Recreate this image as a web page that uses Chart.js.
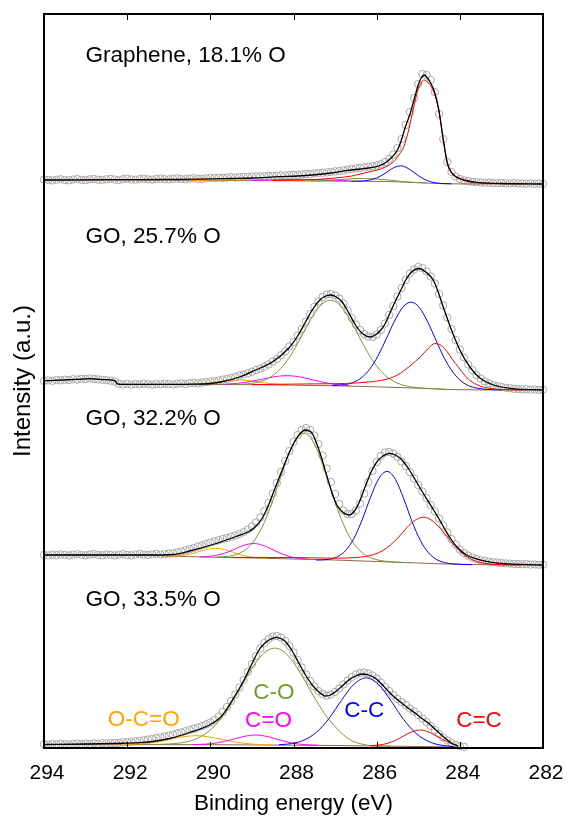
<!DOCTYPE html>
<html>
<head>
<meta charset="utf-8">
<script src="https://cdn.jsdelivr.net/npm/chart.js@4.4.1/dist/chart.umd.min.js"></script>
<style>
  html, body { margin: 0; padding: 0; background: #fff; overflow: hidden; }
  #grafico { display: block; }
</style>
</head>
<body>
<canvas id="grafico" width="568" height="818"></canvas>
<script>
// binding energy grid of the measured points (eV)
const energy = [
  294.0, 293.9, 293.8, 293.7, 293.6, 293.5, 293.4, 293.3, 293.2, 293.1,
  293.0, 292.9, 292.8, 292.7, 292.6, 292.5, 292.4, 292.3, 292.2, 292.1,
  292.0, 291.9, 291.8, 291.7, 291.6, 291.5, 291.4, 291.3, 291.2, 291.1,
  291.0, 290.9, 290.8, 290.7, 290.6, 290.5, 290.4, 290.3, 290.2, 290.1,
  290.0, 289.9, 289.8, 289.7, 289.6, 289.5, 289.4, 289.3, 289.2, 289.1,
  289.0, 288.9, 288.8, 288.7, 288.6, 288.5, 288.4, 288.3, 288.2, 288.1,
  288.0, 287.9, 287.8, 287.7, 287.6, 287.5, 287.4, 287.3, 287.2, 287.1,
  287.0, 286.9, 286.8, 286.7, 286.6, 286.5, 286.4, 286.3, 286.2, 286.1,
  286.0, 285.9, 285.8, 285.7, 285.6, 285.5, 285.4, 285.3, 285.2, 285.1,
  285.0, 284.9, 284.8, 284.7, 284.6, 284.5, 284.4, 284.3, 284.2, 284.1,
  284.0, 283.9, 283.8, 283.7, 283.6, 283.5, 283.4, 283.3, 283.2, 283.1,
  283.0, 282.9, 282.8, 282.7, 282.6, 282.5, 282.4, 282.3, 282.2, 282.1,
  282.0
];

const panelNames = ['Graphene, 18.1% O', 'GO, 25.7% O', 'GO, 32.2% O', 'GO, 33.5% O'];
const panelOffset = [564, 358, 183, 1];
const componentNames = ['C=C', 'C-C', 'C-O', 'C=O', 'O-C=O'];
const componentColors = ['#ff0000', '#0000ff', '#6f9e2f', '#ff00ff', '#ffa500'];

// ---- Graphene, 18.1% O ----
const graData = [
  4.5, 4.0, 3.6, 4.2, 4.8, 4.1, 3.7, 4.4, 4.9, 4.2,
  3.9, 4.6, 5.0, 4.3, 4.0, 4.7, 5.1, 4.4, 4.1, 4.8,
  5.2, 4.6, 4.3, 4.9, 5.3, 4.7, 4.4, 5.0, 5.4, 4.8,
  4.6, 5.2, 5.6, 5.0, 4.8, 5.4, 5.8, 5.2, 5.1, 5.7,
  6.0, 5.8, 6.2, 6.0, 6.4, 6.8, 6.5, 6.9, 7.2, 7.0,
  7.4, 7.7, 7.5, 7.9, 8.2, 8.0, 8.4, 8.7, 8.6, 9.0,
  9.3, 9.2, 9.6, 10.0, 10.1, 10.5, 11.0, 11.3, 11.6, 12.1,
  12.6, 13.0, 13.6, 14.3, 15.0, 15.6, 16.2, 16.8, 17.3, 17.8,
  18.5, 19.8, 22.0, 25.0, 29.5, 36.0, 45.0, 59.0, 72.0, 86.0,
  100.0, 110.0, 109.0, 104.0, 92.0, 70.0, 45.0, 22.0, 12.0, 7.5,
  5.0, 3.5, 2.8, 2.2, 1.8, 1.5, 1.2, 1.4, 0.9, 0.8,
  1.1, 0.7, 0.5, 0.9, 0.4, 0.6, 0.3, 0.7, 0.2, 0.5,
  0.1
];
const graFit = [[294,4.0],[293,4.2],[292,4.4],[291,4.6],[290.3,4.8],[289.5,5.5],[289,6.0],[288.35,7.3],[287.9,8],[287.55,9],[287.1,11],[286.75,13.3],[286.4,15],[286.19,16],[285.95,18],[285.8,21],[285.63,27],[285.5,34],[285.43,41],[285.31,57],[285.19,71],[285.07,89],[285,99],[284.93,106],[284.85,109],[284.78,106],[284.7,101],[284.6,91],[284.5,73],[284.4,45],[284.3,21],[284.2,11.5],[284.1,7.5],[284,5.5],[283.8,3],[283.6,1.7],[283.3,0.8],[283,0.5],[282,0]];
const graBack = [[294,4],[290,3.6],[288,3.2],[286.5,2.8],[285.5,2.2],[285,1.3],[284.6,0.6],[284,0.1],[282,0]];
const graCdC = [[288.5,3.4],[287.5,4.5],[287,6],[286.6,8],[286.2,12],[285.9,15],[285.7,19],[285.55,24],[285.45,30],[285.35,37],[285.23,54],[285.11,77],[285,95],[284.93,101],[284.86,104],[284.78,102],[284.7,98],[284.6,89],[284.5,72],[284.4,44],[284.3,20.5],[284.2,11],[284,5],[283.8,2.5],[283.5,1],[283,0.3],[282.5,0.1]];
const graCC = [[286.6,2.8],[286.4,2.9],[286.2,3.7],[286,6],[285.8,10.6],[285.6,16.1],[285.42,18.2],[285.2,14.4],[285,8.4],[284.8,3.7],[284.6,1.3],[284.4,0.4],[284.2,0.2]];
const graCO = [[287.6,3.1],[287.2,3.6],[286.9,4.4],[286.6,5.2],[286.3,5.6],[286,5.0],[285.7,3.9],[285.4,2.5],[285.1,1.6],[284.8,1.0]];
const graCdO = [[289,3.5],[288.4,4.2],[287.8,4.7],[287.2,4.0],[286.6,2.9]];
const graOCO = [[290.5,3.7],[289.6,4.0],[289,4.3],[288.4,4.0],[287.5,3.1]];

// ---- GO, 25.7% O ----
const go257Data = [
  9.0, 9.6, 9.2, 10.0, 9.7, 10.3, 10.0, 10.8, 10.5, 11.2,
  11.0, 11.6, 11.1, 10.6, 10.2, 9.8, 9.3, 8.4, 6.2, 5.5,
  6.2, 5.4, 6.0, 5.6, 6.3, 5.8, 5.3, 6.1, 5.7, 6.4,
  5.9, 5.5, 6.2, 6.6, 6.0, 6.8, 7.1, 6.6, 7.4, 7.9,
  8.4, 8.8, 9.5, 10.4, 11.0, 12.1, 13.0, 14.6, 15.5, 16.8,
  18.3, 20.0, 21.4, 23.2, 25.6, 28.5, 31.0, 34.8, 38.6, 43.5,
  48.0, 54.5, 61.0, 68.5, 76.0, 83.0, 88.5, 93.0, 95.5, 96.0,
  94.5, 91.5, 86.5, 79.5, 72.0, 65.5, 60.0, 56.0, 53.5, 53.0,
  55.5, 60.0, 66.5, 75.0, 84.0, 93.5, 102.0, 110.0, 116.5, 120.5,
  123.0, 122.0, 118.5, 113.5, 106.5, 96.0, 84.5, 72.5, 61.0, 50.0,
  40.5, 32.5, 25.5, 20.0, 15.0, 11.5, 8.5, 6.5, 5.0, 3.8,
  3.0, 2.2, 1.8, 1.2, 0.9, 0.6, 0.8, 0.3, 0.5, 0.1,
  0.3
];
const go257Fit = [[294,9.3],[293.6,9.8],[293.2,10.6],[292.9,11.3],[292.6,10.4],[292.3,9.4],[292.22,5.9],[292.1,5.7],[291,5.7],[290.4,5.9],[290,6.5],[289.7,8.5],[289.3,13],[288.91,20],[288.51,28],[288.11,42],[287.9,54],[287.71,68],[287.55,80],[287.39,89],[287.25,93.5],[287.11,95],[286.97,93],[286.83,88],[286.67,77],[286.51,65],[286.33,56],[286.15,53],[286,56],[285.92,59],[285.8,66],[285.68,77],[285.56,88],[285.44,98],[285.3,110],[285.15,118.5],[284.98,121.5],[284.82,118],[284.64,110],[284.52,98],[284.4,83],[284.2,60],[284,40],[283.76,23],[283.51,11.7],[283.19,5],[282.8,1.7],[282.3,0.3],[282,0]];
const go257Back = [[294,9.3],[293.6,9.8],[293.2,10.6],[292.9,11.3],[292.6,10.4],[292.3,9.4],[292.22,5.9],[292,5.7],[290,5.6],[289,5.3],[288,4.8],[287,4.2],[286,3.2],[285,1.8],[284.3,0.6],[283.5,0.1],[282,0]];
const go257CdC = [[289,5.4],[288,5.9],[287.5,6.1],[287,6.3],[286.5,7],[286.2,8],[285.9,9.5],[285.7,11.5],[285.5,15],[285.2,24],[284.93,34],[284.75,42],[284.6,46.5],[284.45,44.5],[284.3,38],[284.2,32],[284,21],[283.8,11],[283.6,5.5],[283.4,2.5],[283.1,0.8],[282.8,0.2],[282.5,0]];
const go257CC = [[287.07,4.5],[286.77,5.4],[286.57,7.5],[286.37,12.1],[286.17,20.7],[285.97,34],[285.77,51.1],[285.57,69],[285.37,82.8],[285.17,87.9],[284.97,82.3],[284.77,67.9],[284.57,49.4],[284.37,31.7],[284.17,18],[283.97,9],[283.77,4],[283.57,1.7],[283.27,0.4],[283,0.1]];
const go257CO = [[289.4,5.5],[289.11,6.2],[288.91,7.3],[288.71,9.6],[288.51,14],[288.31,21.4],[288.11,32],[287.91,45.8],[287.71,61.3],[287.51,75.7],[287.31,86.1],[287.11,89.8],[286.91,85.8],[286.71,75.2],[286.51,60.3],[286.31,44.5],[286.11,30.4],[285.91,19.5],[285.71,11.8],[285.51,7],[285.31,4.3],[285.11,2.8],[284.81,1.7],[284.3,0.6]];
const go257CdO = [[289.65,5.9],[289.35,6.65],[289.05,8.35],[288.75,10.9],[288.45,13.35],[288.15,14.35],[287.85,13.1],[287.55,10.3],[287.25,7.45],[286.95,5.4],[286.65,4.3]];
const go257OCO = [[290.5,5.85],[290.2,6.5],[289.9,7.8],[289.6,9.2],[289.3,9.9],[289,9.1],[288.7,7.3],[288.4,5.85],[288.1,5.05]];

// ---- GO, 32.2% O ----
const go322Data = [
  10.2, 9.6, 10.4, 9.9, 10.6, 10.1, 9.5, 10.3, 10.8, 10.0,
  9.6, 10.4, 10.9, 10.2, 9.7, 10.5, 10.1, 9.6, 10.4, 10.8,
  10.1, 9.7, 10.5, 10.9, 10.3, 10.0, 10.6, 11.0, 10.4, 10.9,
  11.4, 11.8, 12.6, 13.5, 14.6, 15.8, 17.0, 18.4, 19.6, 21.0,
  22.4, 23.6, 24.8, 26.0, 27.0, 28.2, 29.5, 31.0, 33.0, 35.5,
  38.5, 42.5, 47.5, 54.0, 62.0, 71.5, 82.0, 93.0, 104.0, 114.0,
  123.0, 130.0, 135.0, 137.0, 135.0, 129.5, 121.0, 109.5, 96.5, 83.0,
  71.0, 61.0, 54.5, 51.0, 51.0, 54.5, 61.5, 71.5, 83.0, 94.0,
  103.0, 109.0, 112.5, 113.0, 111.5, 108.0, 103.5, 99.0, 93.0, 86.5,
  80.0, 73.5, 67.0, 60.0, 53.5, 46.5, 39.5, 32.5, 26.0, 20.5,
  15.5, 12.0, 9.5, 7.5, 6.0, 4.8, 4.0, 3.4, 2.8, 2.4,
  2.0, 1.6, 1.4, 1.1, 0.9, 0.7, 0.9, 0.4, 0.6, 0.2,
  0.3
];
const go322Fit = [[294,10],[293,10],[292,10],[291.5,10],[290.9,10.5],[290.5,14],[289.94,20.5],[289.38,28.5],[289.07,33.5],[288.9,39],[288.75,47],[288.6,60],[288.43,78.3],[288.27,95],[288.11,111.7],[287.99,122],[287.87,130],[287.72,135],[287.55,131.7],[287.43,120],[287.31,105],[287.19,88],[287.07,71.7],[286.97,61],[286.87,55],[286.67,50],[286.55,53],[286.43,61.7],[286.27,79],[286.11,95],[285.97,104.5],[285.87,108.3],[285.7,111.7],[285.55,110],[285.39,105],[285.23,96],[285.07,85],[284.87,71],[284.68,58.3],[284.5,46],[284.35,35],[284.2,25],[284.04,16.7],[283.84,10],[283.64,6.7],[283.3,3.2],[283,1.7],[282.5,0.6],[282,0]];
const go322Back = [[294,10],[291.5,9.8],[291,9],[290.5,8.3],[290,7.8],[289,7],[288,6],[287,5],[286,3.5],[285,2],[284.5,1.2],[284,0.6],[283,0.1],[282,0]];
const go322CdC = [[289.5,7.6],[289,7.6],[288.5,7.5],[288,7.4],[287.5,7.1],[287,6.8],[286.5,7.5],[286.27,8.5],[286.07,10.5],[285.87,14],[285.67,20],[285.47,28],[285.27,37.5],[285.07,45],[284.87,47.8],[284.67,44.5],[284.47,36.5],[284.27,26.3],[284.07,16.6],[283.87,9.3],[283.67,4.7],[283.47,2.1],[283.17,0.6],[282.8,0.1],[282.5,0]];
const go322CC = [[287.45,4.9],[287.15,5.65],[286.95,8.1],[286.75,14.3],[286.55,26.4],[286.35,45.1],[286.15,67.4],[285.95,86.3],[285.75,93.6],[285.55,85.7],[285.35,66.3],[285.15,43.5],[284.95,24.6],[284.75,12],[284.55,5.3],[284.35,2.3],[284.05,0.85],[283.7,0.3]];
const go322CO = [[289.85,7.95],[289.55,8.8],[289.35,10.9],[289.15,15.4],[288.95,24],[288.75,38.2],[288.55,58.4],[288.35,82.8],[288.15,107],[287.95,125.2],[287.75,131.7],[287.55,124.8],[287.35,106.3],[287.15,81.6],[286.95,56.7],[286.75,36],[286.55,21.4],[286.35,12.3],[286.15,7.3],[285.95,4.8],[285.65,3.2],[285.2,2.3]];
const go322CdO = [[290.25,8.1],[289.95,9],[289.75,10.6],[289.55,13.4],[289.35,17.1],[289.15,20.25],[288.95,21.5],[288.75,19.9],[288.55,16.4],[288.35,12.4],[288.15,9.2],[287.95,7.2],[287.65,5.85]];
const go322OCO = [[291.2,9.4],[290.86,9.2],[290.66,9.65],[290.46,11.15],[290.26,13.55],[290.06,15.75],[289.86,16.7],[289.66,15.45],[289.46,12.9],[289.26,10.1],[289.06,8.25],[288.86,7.25],[288.6,6.7]];

// ---- GO, 33.5% O ----
const go335Data = [
  2.8, 2.4, 3.0, 2.6, 3.2, 2.8, 2.5, 3.1, 3.4, 2.9,
  3.3, 3.0, 3.6, 3.2, 3.8, 3.5, 3.9, 4.2, 4.0, 4.6,
  4.9, 5.3, 5.6, 6.2, 6.8, 7.4, 8.0, 8.9, 9.6, 10.5,
  11.4, 12.4, 13.5, 14.5, 15.8, 17.0, 18.3, 19.5, 21.0, 22.6,
  24.5, 27.0, 30.5, 35.0, 40.0, 46.0, 52.5, 59.5, 67.0, 75.0,
  83.0, 91.0, 98.5, 104.0, 108.0, 110.5, 111.0, 109.5, 106.0, 101.0,
  94.5, 87.0, 79.5, 72.5, 66.0, 60.5, 56.0, 53.0, 51.5, 52.5,
  55.0, 58.5, 62.5, 66.5, 70.0, 72.5, 74.0, 74.5, 73.5, 71.5,
  68.5, 64.5, 60.0, 56.0, 52.0, 48.0, 45.0, 42.0, 38.5, 35.5,
  32.0, 28.5, 25.0, 21.0, 17.0, 13.0, 9.5, 6.5, 4.0, 2.2,
  1.0, 0.2
];
const go335Fit = [[294,2.5],[293,3],[292.3,3.6],[291.7,4.3],[291.3,6],[290.98,8.5],[290.5,14.5],[290.02,22],[289.78,28.7],[289.62,37],[289.47,47],[289.31,58],[289.15,70.3],[288.99,84],[288.83,97],[288.71,103],[288.59,107],[288.43,109.7],[288.31,108.5],[288.19,105.3],[288.03,96],[287.87,83.7],[287.71,72],[287.55,62],[287.39,55],[287.23,51],[287.11,52],[286.99,55.3],[286.83,61],[286.67,67],[286.51,71],[286.35,73],[286.19,72],[286.03,68.7],[285.87,62.5],[285.71,55.3],[285.55,49],[285.39,43.7],[285.23,38.5],[285.07,33.7],[284.91,28.5],[284.75,23.7],[284.6,18],[284.44,12],[284.3,7],[284.16,3],[284.04,1]];
const go335Back = [[294,2.5],[290,2.3],[288,1.8],[287,1.5],[286,1.0],[285,0.5],[284.04,0]];
const go335CdC = [[286.15,1.3],[285.95,2],[285.75,3.5],[285.55,6.6],[285.35,11.1],[285.15,15.25],[284.95,17],[284.75,15.1],[284.55,10.8],[284.35,6.1],[284.15,2.75],[284.04,1.2]];
const go335CC = [[288.35,2.3],[288.05,3.4],[287.75,6.85],[287.45,14.65],[287.15,28.35],[286.85,46.45],[286.55,62.6],[286.25,69.15],[285.95,62.25],[285.65,45.8],[285.35,27.45],[285.05,13.5],[284.75,5.5],[284.45,1.8],[284.15,0.45]];
const go335CO = [[291.25,2.6],[290.85,3.45],[290.55,5.4],[290.25,10],[289.95,19],[289.65,33.7],[289.35,53.6],[289.05,75.3],[288.75,92.4],[288.45,98.9],[288.15,92.3],[287.85,75],[287.55,53.2],[287.25,33.1],[286.95,18.2],[286.65,7.5],[286.35,2.8],[286.05,1.1],[285.65,0.8]];
const go335CdO = [[290.41,2.4],[290.11,2.9],[289.81,4.3],[289.51,7.1],[289.21,10.4],[288.91,12],[288.61,10.3],[288.31,6.8],[288.01,3.8],[287.71,2.35],[287.41,1.75]];
const go335OCO = [[292.14,2.5],[291.84,2.8],[291.54,3.6],[291.24,5.3],[290.94,7.9],[290.64,10.3],[290.34,11.35],[290.04,10.2],[289.74,7.8],[289.44,5.2],[289.14,3.5],[288.84,2.5],[288.54,2.1]];

const fonte = '"Liberation Sans", Arial, Helvetica, sans-serif';

function pares(lista, off) {
  return lista.map(p => ({ x: p[0], y: p[1] + off }));
}

function montarDatasets() {
  const paineis = [
    { data: graData, fit: graFit, back: graBack, comps: [graCdC, graCC, graCO, graCdO, graOCO] },
    { data: go257Data, fit: go257Fit, back: go257Back, comps: [go257CdC, go257CC, go257CO, go257CdO, go257OCO] },
    { data: go322Data, fit: go322Fit, back: go322Back, comps: [go322CdC, go322CC, go322CO, go322CdO, go322OCO] },
    { data: go335Data, fit: go335Fit, back: go335Back, comps: [go335CdC, go335CC, go335CO, go335CdO, go335OCO] }
  ];
  const linha = { showLine: true, pointRadius: 0, borderWidth: 1, fill: false, cubicInterpolationMode: 'monotone' };
  const sets = [];
  paineis.forEach((p, i) => {
    const off = panelOffset[i];
    sets.push({
      label: panelNames[i],
      data: p.data.map((v, k) => ({ x: energy[k], y: v + off })),
      showLine: false,
      pointStyle: 'circle',
      pointRadius: 3.7,
      pointBorderWidth: 1,
      pointBorderColor: '#a8a8a8',
      pointBackgroundColor: 'rgba(255,255,255,0)',
      clip: false,
      order: 9
    });
    sets.push({ ...linha, data: pares(p.back, off), borderColor: '#94664a', order: 8 });
    p.comps.forEach((c, j) => {
      sets.push({ ...linha, label: componentNames[j], data: pares(c, off), borderColor: componentColors[j], order: 2 + j });
    });
    sets.push({ ...linha, data: pares(p.fit, off), borderColor: '#000', borderWidth: 1.3, order: 1 });
  });
  return sets;
}

// frame, inner ticks and the text labels
const moldura = {
  id: 'moldura',
  afterDatasetsDraw(chart) {
    const { ctx, chartArea: a, scales: { x, y } } = chart;
    ctx.save();
    ctx.strokeStyle = '#000';
    ctx.lineWidth = 2;
    ctx.strokeRect(a.left, a.top, a.right - a.left, a.bottom - a.top);
    ctx.lineWidth = 1;
    x.ticks.forEach(t => {
      const px = Math.round(x.getPixelForValue(t.value)) + 0.5;
      ctx.beginPath();
      ctx.moveTo(px, a.top);
      ctx.lineTo(px, a.top + 6);
      ctx.moveTo(px, a.bottom);
      ctx.lineTo(px, a.bottom - 6);
      ctx.stroke();
    });

    ctx.font = '22.5px ' + fonte;
    ctx.textBaseline = 'alphabetic';
    ctx.fillStyle = '#000';
    ctx.textAlign = 'left';
    const tituloY = [686, 505, 323, 142];
    panelNames.forEach((nome, i) => {
      ctx.fillText(nome, x.getPixelForValue(293), y.getPixelForValue(tituloY[i]));
    });

    // component labels in the lowest panel
    const pos = [[283.54, 21.3], [286.3, 31.3], [288.47, 49], [288.6, 20.7], [291.6, 22.3]];
    ctx.textAlign = 'center';
    componentNames.forEach((nome, j) => {
      ctx.fillStyle = componentColors[j];
      ctx.fillText(nome, x.getPixelForValue(pos[j][0]), y.getPixelForValue(pos[j][1]));
    });
    ctx.restore();
  }
};

new Chart(document.getElementById('grafico'), {
  type: 'scatter',
  data: { datasets: montarDatasets() },
  options: {
    responsive: false,
    animation: false,
    devicePixelRatio: 1,
    layout: { padding: { top: 14, right: 25, left: 0, bottom: 0 } },
    plugins: { legend: { display: false }, tooltip: { enabled: false } },
    scales: {
      x: {
        type: 'linear',
        reverse: true,
        min: 282,
        max: 294,
        grid: { display: false, drawTicks: false },
        border: { display: false },
        ticks: { stepSize: 2, color: '#000', font: { size: 21, family: fonte }, padding: 13, labelOffset: 3, maxRotation: 0 },
        title: { display: true, text: 'Binding energy (eV)', color: '#000', font: { size: 22.5, family: fonte }, padding: { top: 0, bottom: 1 } },
        afterFit: s => { s.height = 70; s.paddingLeft = 0; s.paddingRight = 0; }
      },
      y: {
        min: 0,
        max: 734,
        grid: { display: false, drawTicks: false },
        border: { display: false },
        ticks: { display: false },
        title: { display: true, text: 'Intensity (a.u.)', color: '#000', font: { size: 24, family: fonte }, padding: { top: 9, bottom: 0 } },
        afterFit: s => { s.width = 44; }
      }
    }
  },
  plugins: [moldura]
});
</script>
</body>
</html>
